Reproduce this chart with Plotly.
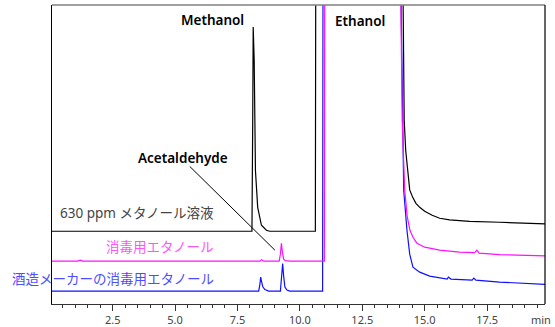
import plotly.graph_objects as go

# ---- data (time in min, signal in arbitrary units incl. offset) ----
black_t = [0.07, 7.5, 8.08, 8.11, 8.13, 8.17, 8.19, 8.22, 8.31, 8.42, 8.46, 8.66, 8.79, 10.62, 10.64,
           14.10, 14.14, 14.16, 14.18, 14.24, 14.32, 14.40, 14.52, 14.65, 14.80, 15.0, 15.3, 15.6,
           16.0, 16.8, 18.0, 19.82]
black_y = [73, 73, 73, 180, 278, 244, 204, 134, 97, 84, 79, 74, 73, 73, 400,
           400, 300, 214, 184, 154, 131, 114.5, 107, 101, 97, 93, 89, 86,
           84.5, 83, 82, 80.3]

magenta_t = [0.07, 1.1, 1.2, 1.3, 8.4, 8.47, 8.55, 9.17, 9.22, 9.26, 9.30, 9.35, 9.42, 9.6, 10.98, 11.0,
             14.0, 14.06, 14.1, 14.2, 14.3, 14.41, 14.53, 14.69, 15.0, 15.6, 16.4, 17.0, 17.09, 17.18,
             18.0, 19.82]
magenta_y = [43, 43, 44, 43, 43, 44.5, 43, 43, 50, 61, 52, 45, 43.5, 43, 43, 400,
             400, 230, 184, 114, 88, 74, 67, 61, 57, 54, 52, 51.5, 54, 51,
             49.5, 48.3]

blue_t = [0.07, 8.35, 8.40, 8.43, 8.47, 8.52, 8.6, 8.75, 9.22, 9.27, 9.31, 9.35, 9.40, 9.48, 9.6,
          10.91, 10.93, 14.0, 14.1, 14.16, 14.29, 14.4, 14.53, 14.8, 15.2, 15.9, 15.95, 16.05, 16.9,
          16.97, 17.05, 18.0, 19.82]
blue_y = [13, 13, 20, 27, 22, 17, 14.5, 13, 13, 25, 40.7, 28, 17, 14, 13,
          13, 400, 400, 184, 114, 74, 50, 37, 32, 28, 25, 27, 25, 24,
          26, 24, 22, 19.7]

x_ticks = [2.5, 5.0, 7.5, 10.0, 12.5, 15.0, 17.5]
x_tick_labels = ["2.5", "5.0", "7.5", "10.0", "12.5", "15.0", "17.5"]

peak_labels = ["Methanol", "Ethanol", "Acetaldehyde"]
series_labels = ["630 ppm メタノール溶液", "消毒用エタノール", "酒造メーカーの消毒用エタノール"]

FONT = "Noto Sans, Noto Sans CJK JP, sans-serif"

fig = go.Figure()
for t, y, c in [(blue_t, blue_y, "#1010ff"), (magenta_t, magenta_y, "#ff10ff"), (black_t, black_y, "#000000")]:
    fig.add_trace(go.Scatter(x=t, y=y, mode="lines", line=dict(color=c, width=1.2),
                             showlegend=False, hoverinfo="skip"))

# peak labels
pl_font = dict(family=FONT, size=13.5, color="#000", weight=600)
fig.add_annotation(x=6.51, y=285, text=peak_labels[0], showarrow=False, font=pl_font)
fig.add_annotation(x=12.4, y=284, text=peak_labels[1], showarrow=False, font=pl_font)
fig.add_annotation(x=5.31, y=146, text=peak_labels[2], showarrow=False, font=pl_font)
# leader line for acetaldehyde
fig.add_shape(type="line", x0=5.59, y0=138, x1=9.0, y1=54, line=dict(color="#000", width=1))

# series labels
for txt, yy, col in [(series_labels[0], 91, "#444444"), (series_labels[1], 57, "#ff55ff"),
                     (series_labels[2], 25, "#4d4dff")]:
    fig.add_annotation(x=6.63, y=yy, text=txt, showarrow=False, xanchor="right",
                       font=dict(family=FONT, size=13.5, color=col))

# frame: top grey, right black
fig.add_shape(type="line", xref="paper", yref="paper", x0=0, x1=1, y0=1, y1=1,
              line=dict(color="#808080", width=1.5))
fig.add_shape(type="line", xref="paper", yref="paper", x0=1, x1=1, y0=0, y1=1,
              line=dict(color="#000", width=1.2))

fig.add_annotation(xref="paper", yref="paper", x=1.0, y=0, yanchor="top", yshift=-6, xshift=8,
                   xanchor="right", text="min", showarrow=False,
                   font=dict(family=FONT, size=11, color="#444"))

fig.update_xaxes(range=[0.07, 19.82], showgrid=False, zeroline=False, automargin=False,
                 showline=True, linecolor="#333", linewidth=1.2,
                 tickmode="array", tickvals=x_ticks, ticktext=x_tick_labels,
                 ticks="outside", ticklen=6, tickcolor="#333", tickwidth=1,
                 tickfont=dict(family=FONT, size=11, color="#444"),
                 minor=dict(dtick=0.5, tick0=0, ticks="outside", ticklen=3, tickcolor="#333"))
fig.update_yaxes(range=[0, 300], showgrid=False, zeroline=False, showticklabels=False,
                 automargin=False,
                 showline=True, linecolor="#000", linewidth=1.2, ticks="")

fig.update_layout(width=555, height=327, margin=dict(l=52, r=10, t=4.5, b=22.5),
                  plot_bgcolor="white", paper_bgcolor="white")

fig.write_html("out.html", config={"displayModeBar": False},
               post_script="document.body.style.margin='0';document.body.style.overflow='hidden';")
